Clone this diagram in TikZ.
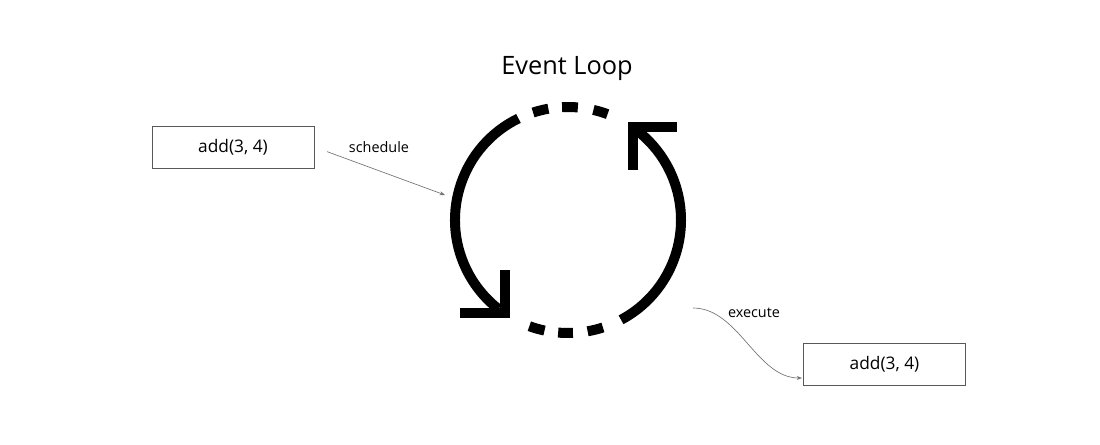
\documentclass[tikz,border=0pt]{standalone}
\usepackage{fontspec}
\setmainfont{Open Sans}
\usetikzlibrary{arrows.meta,calc}
\begin{document}
\begin{tikzpicture}[x=0.75pt,y=-0.75pt,
  box/.style={draw=black!65, line width=0.7pt, minimum width=121.5pt, minimum height=31.5pt, inner sep=0pt, font=\fontsize{13}{15}\selectfont},
  lbl/.style={inner sep=0pt, font=\fontsize{10.8}{12}\selectfont},
  conn/.style={draw=black!55, line width=0.5pt, -{Stealth[length=4pt,width=3pt]}},
  loop/.style={line width=7.5pt, line cap=butt, line join=miter}]
\useasboundingbox (0,0) rectangle (1100,444);
\node[font=\fontsize{19}{22}\selectfont, inner sep=0pt] (title) at (567,68) {Event Loop};
\node[box] (b1) at (233,147) {add(3, 4)};
\node[box] (b2) at (884.5,364.5) {add(3, 4)};
\node[lbl] (l1) at (379,147) {schedule};
\node[lbl] (l2) at (754,313) {execute};
\coordinate (s1) at (445,195);
\coordinate (e0) at (693,308);
\coordinate (e1) at (802,378);
\draw[conn, shorten <=10pt] (b1.east) -- (s1);
\draw[conn] (e0) to[out=0, in=180, looseness=0.9] (e1);
\begin{scope}[shift={(568,220)}, x=0.75pt, y=0.75pt]
  \draw[loop] (116:84.75pt) arc[start angle=116, end angle=232, radius=84.75pt];
  \draw[loop] (298:84.75pt) arc[start angle=298, end angle=412, radius=84.75pt];
  \foreach \a/\b in {100/108, 85/93, 69.5/77, 250/258, 265/272.5, 280/288}
    \draw[loop] (\a:84.75pt) arc[start angle=\a, end angle=\b, radius=84.75pt];
  \draw[loop] (-63,-50) -- (-63,-93) -- (-108,-93);
  \draw[loop] (65,50) -- (65,93) -- (109,93);
\end{scope}
\end{tikzpicture}
\end{document}
